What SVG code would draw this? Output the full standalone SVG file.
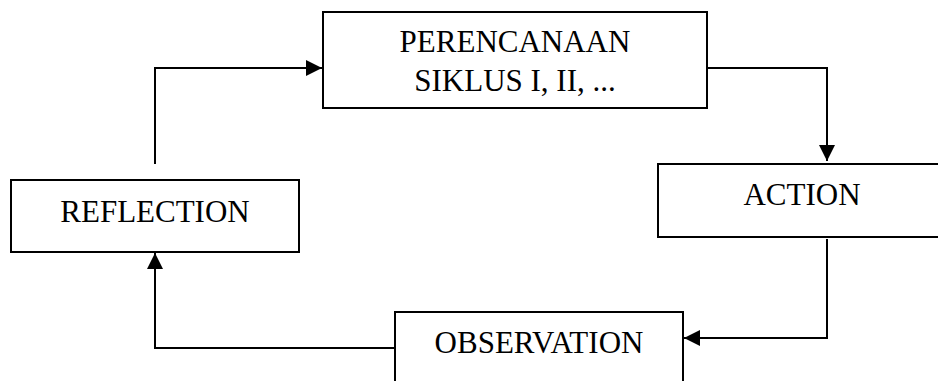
<svg xmlns="http://www.w3.org/2000/svg" width="938" height="381" viewBox="0 0 938 381">
<style>
.box{fill:#fff;stroke:#000;stroke-width:2}
.lbl{font-family:"Liberation Serif","Times New Roman",serif;font-size:31px;fill:#000;text-anchor:middle}
.con{fill:none;stroke:#000;stroke-width:2}
</style>
<defs>
<marker id="ah" markerUnits="userSpaceOnUse" markerWidth="16" markerHeight="16" viewBox="0 0 16 16" refX="16" refY="8" orient="auto">
<path d="M0,0 L16,8 L0,16 Z" fill="#000"/>
</marker>
</defs>
<rect width="938" height="381" fill="#fff"/>
<g id="planning">
<rect class="box" x="323" y="12" width="384" height="96"/>
<text class="lbl" x="515" y="52">PERENCANAAN</text>
<text class="lbl" x="515" y="91">SIKLUS I, II, ...</text>
</g>
<g id="action">
<rect class="box" x="658" y="164" width="290" height="73"/>
<text class="lbl" x="802" y="205">ACTION</text>
</g>
<g id="observation">
<rect class="box" x="395" y="312" width="288" height="80"/>
<text class="lbl" x="539" y="353">OBSERVATION</text>
</g>
<g id="reflection">
<rect class="box" x="11" y="180" width="288" height="72"/>
<text class="lbl" x="155" y="222">REFLECTION</text>
</g>
<g id="connectors">
<path class="con" d="M707,68 H827 V161" marker-end="url(#ah)"/>
<path class="con" d="M827,239 V338 H684" marker-end="url(#ah)"/>
<path class="con" d="M395,348 H155 V253" marker-end="url(#ah)"/>
<path class="con" d="M155,164 V68 H322" marker-end="url(#ah)"/>
</g>
</svg>
